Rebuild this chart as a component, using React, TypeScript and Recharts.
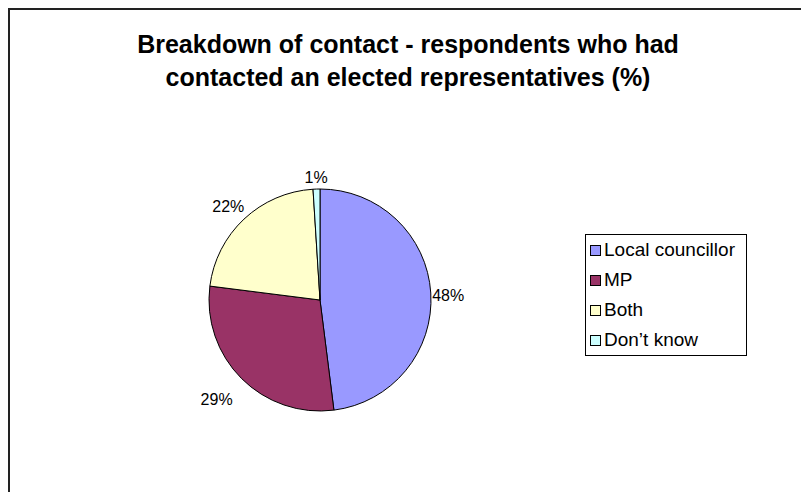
import { Cell, Legend, Pie, PieChart } from "recharts";

const categories = ["Local councillor", "MP", "Both", "Don\u2019t know"];
const shares = [48, 29, 22, 1];
const sliceColors = ["#9999FF", "#993366", "#FFFFCC", "#CCFFFF"];

const titleLines = [
  "Breakdown of contact - respondents who had",
  "contacted an elected representatives (%)",
];

const data = categories.map((name, i) => ({ name, value: shares[i] }));

const FONT = "'Liberation Sans', Arial, sans-serif";
const RAD = Math.PI / 180;

// label box sits just outside the rim; Excel pushes the left/lower ones out a bit more
function renderLabel(props: any) {
  const { cx, cy, midAngle, outerRadius, value } = props;
  const cos = Math.cos(-midAngle * RAD);
  const sin = Math.sin(-midAngle * RAD);
  const text = `${value}%`;
  const w = text.length * 9;
  const h = 16;
  const gap = 4 + 8 * Math.max(0, -cos) + 17 * Math.max(0, sin);
  const x = cx + (outerRadius + gap) * cos + (w / 2) * cos;
  const y = cy + (outerRadius + gap) * sin + (h / 2) * sin;
  return (
    <text x={x} y={y + 6 + 3 * Math.max(0, cos)} textAnchor="middle" fill="#000" fontSize={16} fontFamily={FONT}>
      {text}
    </text>
  );
}

function LegendBox() {
  return (
    <div
      style={{
        border: "1px solid #000",
        background: "#fff",
        padding: "0 4px",
        fontFamily: FONT,
        fontSize: 19,
        color: "#000",
        width: 162,
        boxSizing: "border-box",
        whiteSpace: "nowrap",
      }}
    >
      {categories.map((name, i) => (
        <div key={name} style={{ display: "flex", alignItems: "center", height: 30 }}>
          <span
            style={{
              display: "inline-block",
              width: 9,
              height: 9,
              border: "1px solid #000",
              background: sliceColors[i],
              marginRight: 3,
              flexShrink: 0,
            }}
          />
          {name}
        </div>
      ))}
    </div>
  );
}

export default function App() {
  return (
    <div
      style={{
        position: "relative",
        width: 799,
        height: 482,
        borderLeft: "2px solid #222",
        borderTop: "2px solid #222",
        background: "#fff",
        overflow: "hidden",
      }}
    >
      <div
        style={{
          position: "absolute",
          left: 0,
          top: 18,
          width: 796,
          textAlign: "center",
          fontFamily: FONT,
          fontWeight: "bold",
          fontSize: 25,
          lineHeight: "33px",
          color: "#000",
        }}
      >
        {titleLines.map((t) => (
          <div key={t}>{t}</div>
        ))}
      </div>
      <PieChart width={799} height={482} style={{ position: "absolute", left: 0, top: 0 }}>
        <Pie
          data={data}
          dataKey="value"
          nameKey="name"
          cx={305}
          cy={285}
          outerRadius={111}
          startAngle={90}
          endAngle={-270}
          stroke="#000"
          strokeWidth={1}
          label={renderLabel}
          labelLine={false}
          isAnimationActive={false}
        >
          {data.map((_, i) => (
            <Cell key={i} fill={sliceColors[i]} />
          ))}
        </Pie>
        <Legend
          layout="vertical"
          content={() => <LegendBox />}
          wrapperStyle={{ position: "absolute", left: 575, top: 224, width: "auto" }}
        />
      </PieChart>
    </div>
  );
}
